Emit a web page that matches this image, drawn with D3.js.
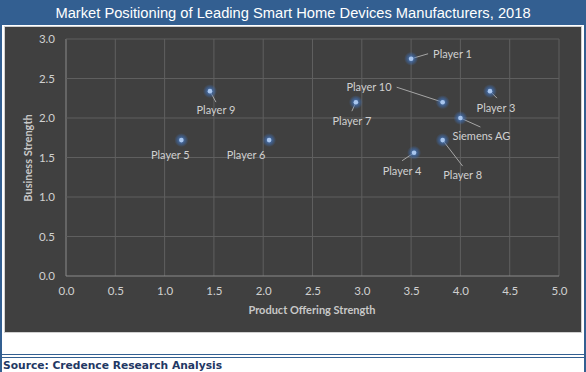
<!DOCTYPE html>
<html lang="en">
<head>
  <meta charset="utf-8">
  <title>Market Positioning</title>
  <script src="https://d3js.org/d3.v7.min.js"></script>
  <style>
    body { margin: 0; background: #fff; }
    svg { display: block; }
  </style>
</head>
<body>
<div id="my_dataviz"></div>
<script>
// players and their scores
const players = ["Player 1", "Player 10", "Player 3", "Siemens AG", "Player 7",
                 "Player 8", "Player 4", "Player 9", "Player 5", "Player 6"];
const productStrength  = [3.50, 3.82, 4.30, 4.00, 2.94, 3.82, 3.53, 1.46, 1.17, 2.06];
const businessStrength = [2.75, 2.20, 2.34, 2.00, 2.20, 1.72, 1.56, 2.34, 1.72, 1.72];

const xTicks = [0, 0.5, 1, 1.5, 2, 2.5, 3, 3.5, 4, 4.5, 5];
const yTicks = [0, 0.5, 1, 1.5, 2, 2.5, 3];

// label placement: text offset from the point and end of leader line (px)
const labelPos = [
  {dx: 22, dy: -5, lx: 17, ly: -5, anchor: "start"},
  {dx: -51, dy: -15, lx: -46, ly: -15, anchor: "end"},
  {dx: 6, dy: 17, lx: 7, ly: 7, anchor: "middle"},
  {dx: 21, dy: 18, lx: 20, ly: 9, anchor: "middle"},
  {dx: -4, dy: 19, lx: -4, ly: 9, anchor: "middle"},
  {dx: 20, dy: 35, lx: 20, ly: 26, anchor: "middle"},
  {dx: -12, dy: 18, lx: -12, ly: 8, anchor: "middle"},
  {dx: 6, dy: 19, lx: 6, ly: 11, anchor: "middle"},
  {dx: -11, dy: 15, lx: null, ly: null, anchor: "middle"},
  {dx: -23, dy: 15, lx: null, ly: null, anchor: "middle"}
];

const W = 586, H = 372;
const svg = d3.select("#my_dataviz").append("svg")
  .attr("width", W).attr("height", H)
  .style("font-family", "Lato, 'Open Sans', sans-serif");

// frame
svg.append("rect").attr("x", 0).attr("y", 0).attr("width", W).attr("height", 25).attr("fill", "#335f91");
svg.append("rect").attr("x", 0).attr("y", 0).attr("width", 2).attr("height", H).attr("fill", "#335f91");
svg.append("rect").attr("x", W - 2).attr("y", 0).attr("width", 2).attr("height", H).attr("fill", "#335f91");
svg.append("rect").attr("x", 4.5).attr("y", 26.5).attr("width", 577).attr("height", 306)
  .attr("fill", "#404040").attr("stroke", "#d0d0d0").attr("stroke-width", 1);
svg.append("line").attr("x1", 0).attr("x2", W).attr("y1", 354.5).attr("y2", 354.5).attr("stroke", "#335f91");
svg.append("line").attr("x1", 0).attr("x2", W).attr("y1", 357.5).attr("y2", 357.5).attr("stroke", "#335f91");

svg.append("text").attr("x", 293).attr("y", 18).attr("text-anchor", "middle")
  .attr("fill", "#fff").style("font-family", "'Liberation Sans', Arial, sans-serif").style("font-size", "14.7px")
  .text("Market Positioning of Leading Smart Home Devices Manufacturers, 2018");

svg.append("text").attr("x", 3).attr("y", 369).attr("fill", "#1f3864")
  .style("font-family", "'DejaVu Sans', Verdana, sans-serif").style("font-size", "10.7px").style("font-weight", "bold")
  .text("Source: Credence Research Analysis");

// scales
const x = d3.scaleLinear().domain([0, 5]).range([66, 559]);
const y = d3.scaleLinear().domain([0, 3]).range([276, 39]);

// grid
svg.append("g").selectAll("line").data(xTicks).join("line")
  .attr("x1", d => x(d)).attr("x2", d => x(d)).attr("y1", y(3)).attr("y2", y(0))
  .attr("stroke", d => d === 0 ? "#8a8a8a" : "#5f5f5f");
svg.append("g").selectAll("line").data(yTicks).join("line")
  .attr("x1", x(0)).attr("x2", x(5)).attr("y1", d => y(d)).attr("y2", d => y(d))
  .attr("stroke", d => d === 0 ? "#8a8a8a" : "#5f5f5f");

// axes (labels only)
const xAxis = svg.append("g").attr("transform", `translate(0,${y(0) + 8})`)
  .call(d3.axisBottom(x).tickValues(xTicks).tickFormat(d3.format(".1f")).tickSize(0));
const yAxis = svg.append("g").attr("transform", `translate(${x(0) - 8},0)`)
  .call(d3.axisLeft(y).tickValues(yTicks).tickFormat(d3.format(".1f")).tickSize(0));
[xAxis, yAxis].forEach(a => {
  a.select(".domain").remove();
  a.selectAll("text").attr("fill", "#d0d0d0").style("font-size", "11.5px")
    .style("font-family", "Lato, 'Open Sans', sans-serif");
});

svg.append("text").attr("x", 312).attr("y", 314).attr("text-anchor", "middle")
  .attr("fill", "#c8c8c8").style("font-size", "11px").style("font-weight", "bold")
  .text("Product Offering Strength");
svg.append("text").attr("transform", "translate(32,158) rotate(-90)").attr("text-anchor", "middle")
  .attr("fill", "#c8c8c8").style("font-size", "11px").style("font-weight", "bold")
  .text("Business  Strength");

// glow for points
const defs = svg.append("defs");
const grad = defs.append("radialGradient").attr("id", "glow");
grad.append("stop").attr("offset", "0%").attr("stop-color", "#5b8fd6").attr("stop-opacity", 0.9);
grad.append("stop").attr("offset", "55%").attr("stop-color", "#3f6fb5").attr("stop-opacity", 0.55);
grad.append("stop").attr("offset", "100%").attr("stop-color", "#3f6fb5").attr("stop-opacity", 0);

const data = players.map((p, i) => ({name: p, px: productStrength[i], by: businessStrength[i], pos: labelPos[i]}));

// leader lines
svg.append("g").selectAll("line").data(data.filter(d => d.pos.lx !== null)).join("line")
  .attr("x1", d => x(d.px)).attr("y1", d => y(d.by))
  .attr("x2", d => x(d.px) + d.pos.lx).attr("y2", d => y(d.by) + d.pos.ly)
  .attr("stroke", "#a6a6a6").attr("stroke-width", 1);

const pts = svg.append("g").selectAll("g").data(data).join("g")
  .attr("transform", d => `translate(${x(d.px)},${y(d.by)})`);
pts.append("circle").attr("r", 7).attr("fill", "url(#glow)");
pts.append("circle").attr("r", 2.3).attr("fill", "#a9c6ee");

svg.append("g").selectAll("text").data(data).join("text")
  .attr("x", d => x(d.px) + d.pos.dx).attr("y", d => y(d.by) + d.pos.dy)
  .attr("dy", "0.35em").attr("text-anchor", d => d.pos.anchor)
  .attr("fill", "#d0d0d0").style("font-size", "11px")
  .text(d => d.name);
</script>
</body>
</html>
